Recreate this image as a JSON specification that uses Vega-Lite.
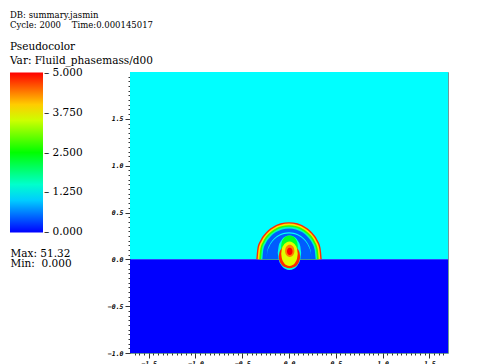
{
  "$schema": "https://vega.github.io/schema/vega-lite/v6.json",
  "width": 318,
  "height": 281,
  "autosize": {"type": "none"},
  "padding": {"left": 130, "top": 72, "right": 30, "bottom": 11},
  "background": "white",
  "config": {"view": {"stroke": "#6f9a9a", "strokeWidth": 1}},
  "title": {
    "text": "DB: summary.jasmin",
    "subtitle": "Cycle: 2000\u00a0\u00a0\u00a0\u00a0Time:0.000145017",
    "anchor": "start", "frame": "group", "dx": -120, "offset": 13,
    "font": "DejaVu Serif", "fontSize": 8.5, "fontWeight": "normal", "color": "#000",
    "subtitleFont": "DejaVu Serif", "subtitleFontSize": 8.5, "subtitleColor": "#000", "subtitlePadding": 1
  },
  "datasets": {
    "shapes": [
      {"k": "c1", "v": 4.8, "x": [-0.35,-0.338,-0.303,-0.247,-0.175,-0.091,0,0.091,0.175,0.247,0.303,0.338,0.35], "y": [0,0.118,0.209,0.287,0.346,0.384,0.397,0.384,0.346,0.287,0.209,0.118,0], "y2": [0,0,0,0,0,0,0,0,0,0,0,0,0]},
      {"k": "c2", "v": 3.9, "x": [-0.335,-0.324,-0.29,-0.237,-0.168,-0.087,0,0.087,0.168,0.237,0.29,0.324,0.335], "y": [0,0.114,0.201,0.276,0.333,0.37,0.382,0.37,0.333,0.276,0.201,0.114,0], "y2": [0,0,0,0,0,0,0,0,0,0,0,0,0]},
      {"k": "c3", "v": 2.7, "x": [-0.318,-0.307,-0.275,-0.225,-0.159,-0.082,0,0.082,0.159,0.225,0.275,0.307,0.318], "y": [0,0.109,0.193,0.264,0.319,0.353,0.365,0.353,0.319,0.264,0.193,0.109,0], "y2": [0,0,0,0,0,0,0,0,0,0,0,0,0]},
      {"k": "c4", "v": 1.6, "x": [-0.3,-0.29,-0.26,-0.212,-0.15,-0.078,0,0.078,0.15,0.212,0.26,0.29,0.3], "y": [0,0.105,0.184,0.251,0.303,0.336,0.347,0.336,0.303,0.251,0.184,0.105,0], "y2": [0,0,0,0,0,0,0,0,0,0,0,0,0]},
      {"k": "c5", "v": 0.45, "x": [-0.285,-0.275,-0.247,-0.201,-0.143,-0.074,0,0.074,0.143,0.201,0.247,0.275,0.285], "y": [0,0.1,0.175,0.239,0.288,0.319,0.33,0.319,0.288,0.239,0.175,0.1,0], "y2": [0,0,0,0,0,0,0,0,0,0,0,0,0]},
      {"k": "l1", "v": 1.3, "x": [-0.24,-0.232,-0.208,-0.17,-0.12,-0.062,0,0.062,0.12,0.17,0.208,0.232,0.24], "y": [0,0.09,0.155,0.211,0.254,0.281,0.29,0.281,0.254,0.211,0.155,0.09,0], "y2": [0,0.075,0.141,0.198,0.241,0.268,0.277,0.268,0.241,0.198,0.141,0.075,0]},
      {"k": "s0", "v": 1.4, "x": [-0.12,-0.11,-0.0825,-0.0425,0.005,0.0525,0.0925,0.12,0.13], "y": [0.07,0.1425,0.202,0.241,0.255,0.241,0.202,0.1425,0.07], "y2": [0.07,-0.0025,-0.062,-0.101,-0.115,-0.101,-0.062,-0.0025,0.07]},
      {"k": "s1", "v": 2.3, "x": [-0.085,-0.0778,-0.058,-0.0292,0.005,0.0392,0.068,0.0878,0.095], "y": [0.135,0.182,0.2207,0.246,0.255,0.246,0.2207,0.182,0.135], "y2": [0.135,0.088,0.0493,0.024,0.015,0.024,0.0493,0.088,0.135]},
      {"k": "s2", "v": 4.8, "x": [-0.11,-0.1008,-0.0755,-0.0387,0.005,0.0487,0.0855,0.1108,0.12], "y": [0.03,0.079,0.1193,0.1456,0.155,0.1456,0.1193,0.079,0.03], "y2": [0.03,-0.019,-0.0593,-0.0856,-0.095,-0.0856,-0.0593,-0.019,0.03]},
      {"k": "s3", "v": 3.6, "x": [-0.083,-0.076,-0.0566,-0.0284,0.005,0.0384,0.0666,0.086,0.093], "y": [0.06,0.111,0.1528,0.18,0.19,0.18,0.1528,0.111,0.06], "y2": [0.06,0.009,-0.0328,-0.06,-0.07,-0.06,-0.0328,0.009,0.06]},
      {"k": "s4", "v": 4.4, "x": [-0.042,-0.038,-0.027,-0.011,0.008,0.027,0.043,0.054,0.058], "y": [0.09,0.1155,0.1364,0.1501,0.155,0.1501,0.1364,0.1155,0.09], "y2": [0.09,0.0645,0.0436,0.0299,0.025,0.0299,0.0436,0.0645,0.09]},
      {"k": "s5", "v": 5, "x": [-0.022,-0.0196,-0.013,-0.0034,0.008,0.0194,0.029,0.0356,0.038], "y": [0.085,0.1007,0.1136,0.122,0.125,0.122,0.1136,0.1007,0.085], "y2": [0.085,0.0693,0.0564,0.048,0.045,0.048,0.0564,0.0693,0.085]}
    ]
  },
  "encoding": {
    "x": {
      "field": "x", "type": "quantitative",
      "scale": {"domain": [-1.7, 1.7], "nice": false, "zero": false},
      "axis": {
        "values": [-1.65,-1.6,-1.55,-1.5,-1.45,-1.4,-1.35,-1.3,-1.25,-1.2,-1.15,-1.1,-1.05,-1,-0.95,-0.9,-0.85,-0.8,-0.75,-0.7,-0.65,-0.6,-0.55,-0.5,-0.45,-0.4,-0.35,-0.3,-0.25,-0.2,-0.15,-0.1,-0.05,0,0.05,0.1,0.15,0.2,0.25,0.3,0.35,0.4,0.45,0.5,0.55,0.6,0.65,0.7,0.75,0.8,0.85,0.9,0.95,1,1.05,1.1,1.15,1.2,1.25,1.3,1.35,1.4,1.45,1.5,1.55,1.6,1.65],
        "labelExpr": "abs(datum.value*2 - round(datum.value*2)) < 0.001 ? format(datum.value, '.1f') : ''",
        "tickSize": {"condition": {"test": "abs(datum.value*2 - round(datum.value*2)) < 0.001", "value": 5}, "value": 2},
        "domain": false, "grid": false,
        "tickColor": "#000", "tickWidth": 0.8,
        "labelFont": "DejaVu Sans Mono", "labelFontStyle": "italic", "labelFontWeight": "bold", "labelFontSize": 6.5, "labelColor": "#000",
        "labelPadding": 2, "labelOverlap": false, "labelFlush": false,
        "title": ["Max: 51.32", "Min:\u00a0 0.000"],
        "titleX": -120, "titleY": -97, "titleAlign": "left", "titleBaseline": "alphabetic",
        "titleFont": "DejaVu Serif", "titleFontSize": 10.5, "titleFontWeight": "normal", "titleLineHeight": 10.5, "titleColor": "#000"
      }
    },
    "y": {
      "field": "y", "type": "quantitative",
      "scale": {"domain": [-1, 2], "nice": false, "zero": false},
      "axis": {
        "values": [-1,-0.95,-0.9,-0.85,-0.8,-0.75,-0.7,-0.65,-0.6,-0.55,-0.5,-0.45,-0.4,-0.35,-0.3,-0.25,-0.2,-0.15,-0.1,-0.05,0,0.05,0.1,0.15,0.2,0.25,0.3,0.35,0.4,0.45,0.5,0.55,0.6,0.65,0.7,0.75,0.8,0.85,0.9,0.95,1,1.05,1.1,1.15,1.2,1.25,1.3,1.35,1.4,1.45,1.5,1.55,1.6,1.65,1.7,1.75,1.8,1.85,1.9,1.95],
        "labelExpr": "abs(datum.value*2 - round(datum.value*2)) < 0.001 ? format(datum.value, '.1f') : ''",
        "tickSize": {"condition": {"test": "abs(datum.value*2 - round(datum.value*2)) < 0.001", "value": 5}, "value": 2},
        "domain": false, "grid": false,
        "tickColor": "#000", "tickWidth": 0.8,
        "labelFont": "DejaVu Sans Mono", "labelFontStyle": "italic", "labelFontWeight": "bold", "labelFontSize": 6.5, "labelColor": "#000",
        "labelPadding": 2, "labelOverlap": false, "labelFlush": false,
        "title": null
      }
    },
    "color": {
      "field": "v", "type": "quantitative",
      "scale": {"type": "linear", "domain": [-0.001, 1.25, 2.5, 3.75, 5.001], "range": ["#0000ff", "#00ffff", "#00ff00", "#ffff00", "#ff0000"], "interpolate": "rgb", "clamp": true},
      "legend": {
        "type": "gradient",
        "orient": "none", "legendX": -120, "legendY": -30, "direction": "vertical",
        "title": ["Pseudocolor", "Var: Fluild_phasemass/d00"],
        "titleFont": "DejaVu Serif", "titleFontSize": 10.5, "titleFontWeight": "normal", "titleColor": "#000", "titleLineHeight": 14, "titlePadding": 6,
        "gradientLength": 160, "gradientThickness": 33, "gradientStrokeWidth": 0,
        "values": [0, 1.25, 2.5, 3.75, 5], "format": ".3f",
        "labelExpr": "'\u2013 ' + datum.label",
        "labelFont": "DejaVu Serif", "labelFontSize": 10.5, "labelColor": "#000", "labelOffset": 1, "labelOverlap": false
      }
    }
  },
  "layer": [
    {"data": {"values": [{"x": -1.7, "x2": 1.7, "y": 0, "y2": 2, "v": 1.25}, {"x": -1.7, "x2": 1.7, "y": -1, "y2": 0, "v": 0}]}, "mark": {"type": "rect"}, "encoding": {"x2": {"field": "x2"}, "y2": {"field": "y2"}}},
    {"data": {"name": "shapes"}, "transform": [{"filter": "datum.k == 'c1'"}, {"flatten": ["x", "y", "y2"]}], "mark": {"type": "area", "interpolate": "monotone"}, "encoding": {"y2": {"field": "y2"}}},
    {"data": {"name": "shapes"}, "transform": [{"filter": "datum.k == 'c2'"}, {"flatten": ["x", "y", "y2"]}], "mark": {"type": "area", "interpolate": "monotone"}, "encoding": {"y2": {"field": "y2"}}},
    {"data": {"name": "shapes"}, "transform": [{"filter": "datum.k == 'c3'"}, {"flatten": ["x", "y", "y2"]}], "mark": {"type": "area", "interpolate": "monotone"}, "encoding": {"y2": {"field": "y2"}}},
    {"data": {"name": "shapes"}, "transform": [{"filter": "datum.k == 'c4'"}, {"flatten": ["x", "y", "y2"]}], "mark": {"type": "area", "interpolate": "monotone"}, "encoding": {"y2": {"field": "y2"}}},
    {"data": {"name": "shapes"}, "transform": [{"filter": "datum.k == 'c5'"}, {"flatten": ["x", "y", "y2"]}], "mark": {"type": "area", "interpolate": "monotone"}, "encoding": {"y2": {"field": "y2"}}},
    {"data": {"name": "shapes"}, "transform": [{"filter": "datum.k == 'l1'"}, {"flatten": ["x", "y", "y2"]}], "mark": {"type": "area", "interpolate": "monotone"}, "encoding": {"y2": {"field": "y2"}}},
    {"data": {"name": "shapes"}, "transform": [{"filter": "datum.k == 's0'"}, {"flatten": ["x", "y", "y2"]}], "mark": {"type": "area", "interpolate": "monotone"}, "encoding": {"y2": {"field": "y2"}}},
    {"data": {"name": "shapes"}, "transform": [{"filter": "datum.k == 's1'"}, {"flatten": ["x", "y", "y2"]}], "mark": {"type": "area", "interpolate": "monotone"}, "encoding": {"y2": {"field": "y2"}}},
    {"data": {"name": "shapes"}, "transform": [{"filter": "datum.k == 's2'"}, {"flatten": ["x", "y", "y2"]}], "mark": {"type": "area", "interpolate": "monotone"}, "encoding": {"y2": {"field": "y2"}}},
    {"data": {"name": "shapes"}, "transform": [{"filter": "datum.k == 's3'"}, {"flatten": ["x", "y", "y2"]}], "mark": {"type": "area", "interpolate": "monotone"}, "encoding": {"y2": {"field": "y2"}}},
    {"data": {"name": "shapes"}, "transform": [{"filter": "datum.k == 's4'"}, {"flatten": ["x", "y", "y2"]}], "mark": {"type": "area", "interpolate": "monotone"}, "encoding": {"y2": {"field": "y2"}}},
    {"data": {"name": "shapes"}, "transform": [{"filter": "datum.k == 's5'"}, {"flatten": ["x", "y", "y2"]}], "mark": {"type": "area", "interpolate": "monotone"}, "encoding": {"y2": {"field": "y2"}}}
  ]
}
